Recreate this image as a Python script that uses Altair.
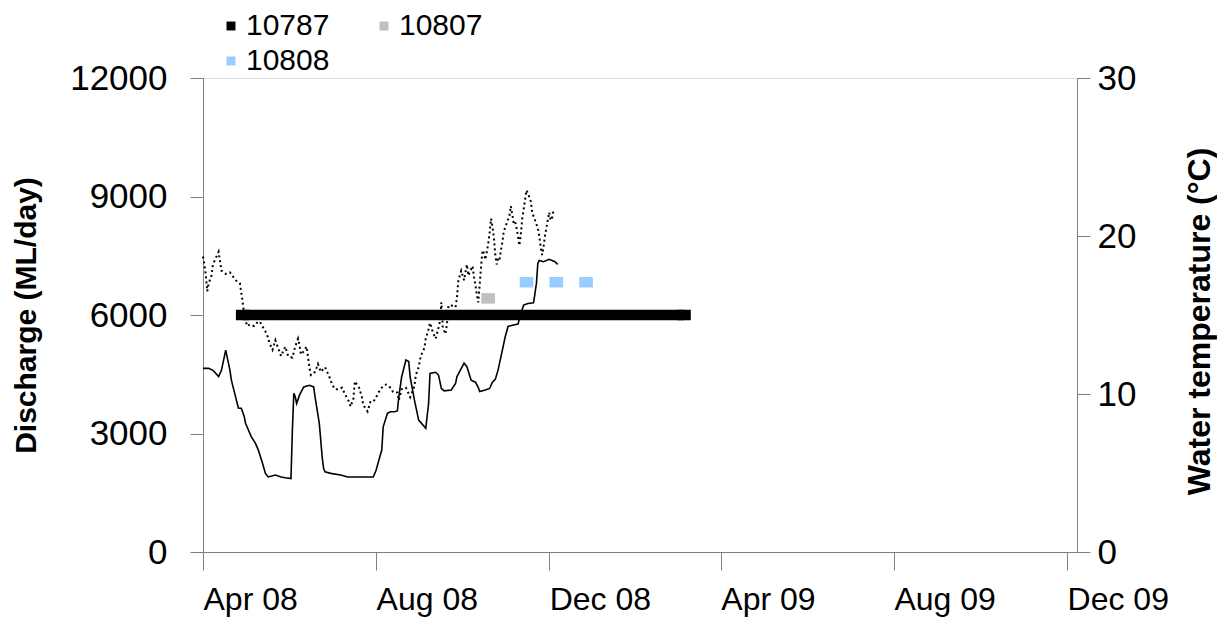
import altair as alt
import pandas as pd

# ---------------- data ----------------
ORIGIN = "2008-04-01"

# Discharge (ML/day), day offsets from 1 Apr 2008
q_day = [0, 4, 7, 11, 13, 16, 19, 20, 23, 25, 27, 29, 30, 32, 34, 37, 39, 42, 44, 46,
         51, 55, 58, 62, 63, 64, 65, 66, 68, 71, 75, 78, 79, 82, 84, 85, 86, 90, 97, 102,
         106, 111, 116, 120, 122, 124, 126, 127, 130, 132, 135, 137, 138, 140, 143, 145, 146, 149, 152, 157,
         159, 160, 164, 166, 168, 170, 175, 178, 179, 184, 186, 189, 192, 194, 195, 199, 202, 204, 206, 208,
         211, 213, 215, 218, 222, 224, 226, 229, 233, 235, 236, 237, 240, 244, 248, 250]
q_val = [4650, 4650, 4600, 4440, 4600, 5110, 4600, 4350, 3920, 3640, 3640, 3440, 3260, 3090, 2920, 2750, 2580, 2240, 1990, 1900,
         1950, 1900, 1880, 1860, 3090, 4020, 3930, 3760, 3970, 4180, 4220, 4180, 3920, 3250, 2400, 2110, 2030, 1990, 1950, 1900,
         1900, 1900, 1900, 1900, 2070, 2330, 2580, 3170, 3510, 3550, 3550, 3570, 3930, 4430, 4860, 4820, 4430, 3850, 3340, 3130,
         3760, 4520, 4550, 4480, 4140, 4080, 4100, 4270, 4440, 4780, 4690, 4350, 4300, 4170, 4060, 4100, 4140, 4300, 4370, 4610,
         5110, 5450, 5710, 5740, 5770, 6040, 6250, 6290, 6310, 6800, 7310, 7380, 7350, 7410, 7350, 7280]

# Water temperature (degC), day offsets from 1 Apr 2008
t_day = [0, 1, 2, 3, 4, 6, 7, 9, 11, 12, 13, 16, 19, 23, 26, 27, 28, 29, 30, 31,
         33, 36, 38, 40, 43, 45, 47, 49, 51, 53, 55, 58, 60, 63, 65, 67, 68, 69, 71, 73,
         75, 76, 79, 81, 83, 86, 89, 91, 93, 96, 98, 100, 103, 104, 106, 107, 110, 112, 113, 116,
         118, 120, 122, 125, 127, 129, 131, 133, 134, 137, 138, 140, 143, 146, 149, 150, 152, 153, 154, 156,
         157, 159, 160, 162, 164, 166, 167, 168, 169, 171, 172, 173, 175, 178, 179, 180, 182, 184, 186, 187,
         190, 191, 192, 193, 194, 195, 196, 197, 198, 199, 200, 201, 202, 203, 204, 205, 206, 207, 208, 209,
         210, 211, 212, 214, 216, 217, 219, 220, 221, 222, 223, 224, 225, 226, 227, 228, 229, 231, 232, 234,
         236, 237, 238, 239, 240, 241, 242, 243, 244, 245, 246, 247]
t_val = [18.7, 18.2, 17.5, 16.5, 17.0, 17.5, 18.2, 18.6, 19.0, 18.4, 17.8, 17.6, 17.7, 17.2, 17.0, 16.4, 15.8, 15.0, 14.7, 14.3,
         14.4, 14.3, 14.5, 14.6, 14.1, 13.8, 13.2, 12.8, 13.4, 12.9, 12.4, 13.0, 12.4, 12.3, 13.0, 13.5, 13.1, 12.5, 12.7, 13.0,
         11.7, 11.2, 11.4, 11.9, 11.4, 11.7, 11.1, 10.6, 10.3, 10.3, 10.4, 10.0, 9.5, 9.2, 9.7, 10.8, 10.4, 9.8, 9.3, 8.9,
         9.5, 9.5, 9.8, 10.3, 10.5, 10.6, 10.5, 10.3, 10.1, 10.1, 9.6, 10.3, 10.4, 9.8, 10.5, 11.2, 11.7, 12.2, 12.5, 12.9,
         13.5, 14.1, 14.5, 13.9, 13.5, 14.2, 14.6, 15.8, 14.2, 13.8, 14.5, 15.6, 15.6, 15.5, 16.1, 17.2, 17.8, 17.2, 18.2, 17.5,
         18.1, 17.4, 16.9, 16.3, 15.8, 16.9, 18.1, 19.1, 18.9, 18.5, 19.0, 19.5, 20.2, 21.1, 20.6, 19.9, 18.8, 18.2, 18.6, 18.5,
         19.1, 19.6, 20.3, 20.8, 21.3, 21.9, 20.8, 20.9, 20.5, 20.0, 19.4, 20.1, 21.1, 21.7, 22.3, 22.9, 22.7, 22.2, 21.5, 21.0,
         20.5, 20.0, 19.3, 18.8, 19.3, 20.0, 20.5, 21.0, 21.5, 21.0, 21.1, 21.6]

# Site records (discharge axis)
site_names = ["10787", "10787", "10807", "10808", "10808", "10808"]
site_dates = ["2008-04-29", "2009-03-06", "2008-10-19", "2008-11-15", "2008-12-06", "2008-12-27"]
site_vals = [6000, 6000, 6420, 6830, 6830, 6830]

legend_domain = ["10787", "10807", "10808"]
legend_colors = ["#000000", "#c0c0c0", "#99ccff"]

x_ticks = [(2008, 4), (2008, 8), (2008, 12), (2009, 4), (2009, 8), (2009, 12)]
x_domain = [(2008, 4, 1), (2009, 12, 8)]

# ---------------- tables ----------------
origin = pd.Timestamp(ORIGIN)
q_df = pd.DataFrame({
    "date": (origin + pd.to_timedelta(q_day, unit="D")).strftime("%Y-%m-%d"),
    "discharge": q_val,
})
t_df = pd.DataFrame({
    "date": (origin + pd.to_timedelta(t_day, unit="D")).strftime("%Y-%m-%d"),
    "temp": t_val,
})
s_df = pd.DataFrame({"site": site_names, "date": site_dates, "discharge": site_vals})
b = s_df[s_df["site"] == "10787"]
bar_df = pd.DataFrame({
    "start": [b["date"].iloc[0]],
    "end": [b["date"].iloc[-1]],
    "discharge": [b["discharge"].iloc[0]],
})

FONT = "Liberation Sans"
AXIS_COLOR = "#808080"

x_scale = alt.Scale(
    type="utc",
    domain=[alt.DateTime(year=y, month=m, date=d, utc=True) for (y, m, d) in x_domain],
    nice=False,
)
x_axis = alt.Axis(
    values=[alt.DateTime(year=y, month=m, date=1, utc=True) for (y, m) in x_ticks],
    labelExpr="utcFormat(datum.value, '%b %y')",
    title=None,
    grid=False,
    tickSize=18,
    tickColor=AXIS_COLOR,
    domainColor=AXIS_COLOR,
    labelFont=FONT,
    labelFontSize=32,
    labelColor="#000000",
    labelAlign="left",
    labelPadding=14,
    labelFlush=False,
    labelOverlap=False,
)

y_left = alt.Scale(domain=[0, 12000], nice=False)
y_left_axis = alt.Axis(
    orient="left",
    values=[0, 3000, 6000, 9000, 12000],
    format="d",
    title="Discharge (ML/day)",
    titleFont=FONT,
    titleFontSize=30,
    titleFontWeight="bold",
    titleAngle=270,
    titleAlign="center",
    titleBaseline="bottom",
    titleX=-162,
    titleY=237,
    grid=False,
    tickSize=13,
    tickColor=AXIS_COLOR,
    domainColor=AXIS_COLOR,
    labelFont=FONT,
    labelFontSize=35,
    labelColor="#000000",
    labelPadding=23,
    labelFlush=False,
)

y_right = alt.Scale(domain=[0, 30], nice=False)
y_right_axis = alt.Axis(
    orient="right",
    values=[0, 10, 20, 30],
    title="Water temperature (°C)",
    titleFont=FONT,
    titleFontSize=32,
    titleFontWeight="bold",
    titleAngle=270,
    titleAlign="center",
    titleBaseline="bottom",
    titleX=139,
    titleY=243,
    grid=False,
    tickSize=13,
    tickColor=AXIS_COLOR,
    domainColor=AXIS_COLOR,
    labelFont=FONT,
    labelFontSize=35,
    labelColor="#000000",
    labelPadding=7,
    labelFlush=False,
)

X = alt.X("date:T", scale=x_scale, axis=x_axis)

temp_line = alt.Chart(t_df).mark_line(
    color="#000000", strokeWidth=2, strokeDash=[2, 3]
).encode(
    x=X,
    y=alt.Y("temp:Q", scale=y_right, axis=y_right_axis),
)

q_line = alt.Chart(q_df).mark_line(color="#000000", strokeWidth=1.6).encode(
    x=X,
    y=alt.Y("discharge:Q", scale=y_left, axis=y_left_axis),
)

bar_rule = alt.Chart(bar_df).mark_rule(color="#000000", strokeWidth=10.5).encode(
    x=alt.X("start:T", scale=x_scale, axis=x_axis),
    x2="end:T",
    y=alt.Y("discharge:Q", scale=y_left, axis=y_left_axis),
)

site_pts = alt.Chart(s_df).mark_point(
    shape="M-1.3,-1H1.3V1H-1.3Z", filled=True, size=110, opacity=1, strokeWidth=0
).encode(
    x=X,
    y=alt.Y("discharge:Q", scale=y_left, axis=y_left_axis),
    color=alt.Color(
        "site:N",
        scale=alt.Scale(domain=legend_domain, range=legend_colors),
        legend=alt.Legend(
            title=None,
            orient="none",
            legendX=-6,
            legendY=-67,
            columns=2,
            direction="horizontal",
            symbolType="square",
            symbolSize=80,
            symbolOffset=19,
            symbolStrokeWidth=0,
            symbolOpacity=1,
            labelFont=FONT,
            labelFontSize=30,
            labelColor="#000000",
            labelOffset=0,
            columnPadding=20,
            rowPadding=5,
            padding=0,
        ),
    ),
)

left_layer = alt.layer(q_line, bar_rule, site_pts)

chart = alt.layer(temp_line, left_layer).resolve_scale(y="independent").properties(
    width=874,
    height=474,
    padding={"left": 195, "top": 70, "right": 140, "bottom": 68},
    autosize=alt.AutoSizeParams(type="none"),
).configure_view(stroke=None).configure(background="#ffffff")

chart.save("out.html", embed_options={"renderer": "svg", "actions": False})
